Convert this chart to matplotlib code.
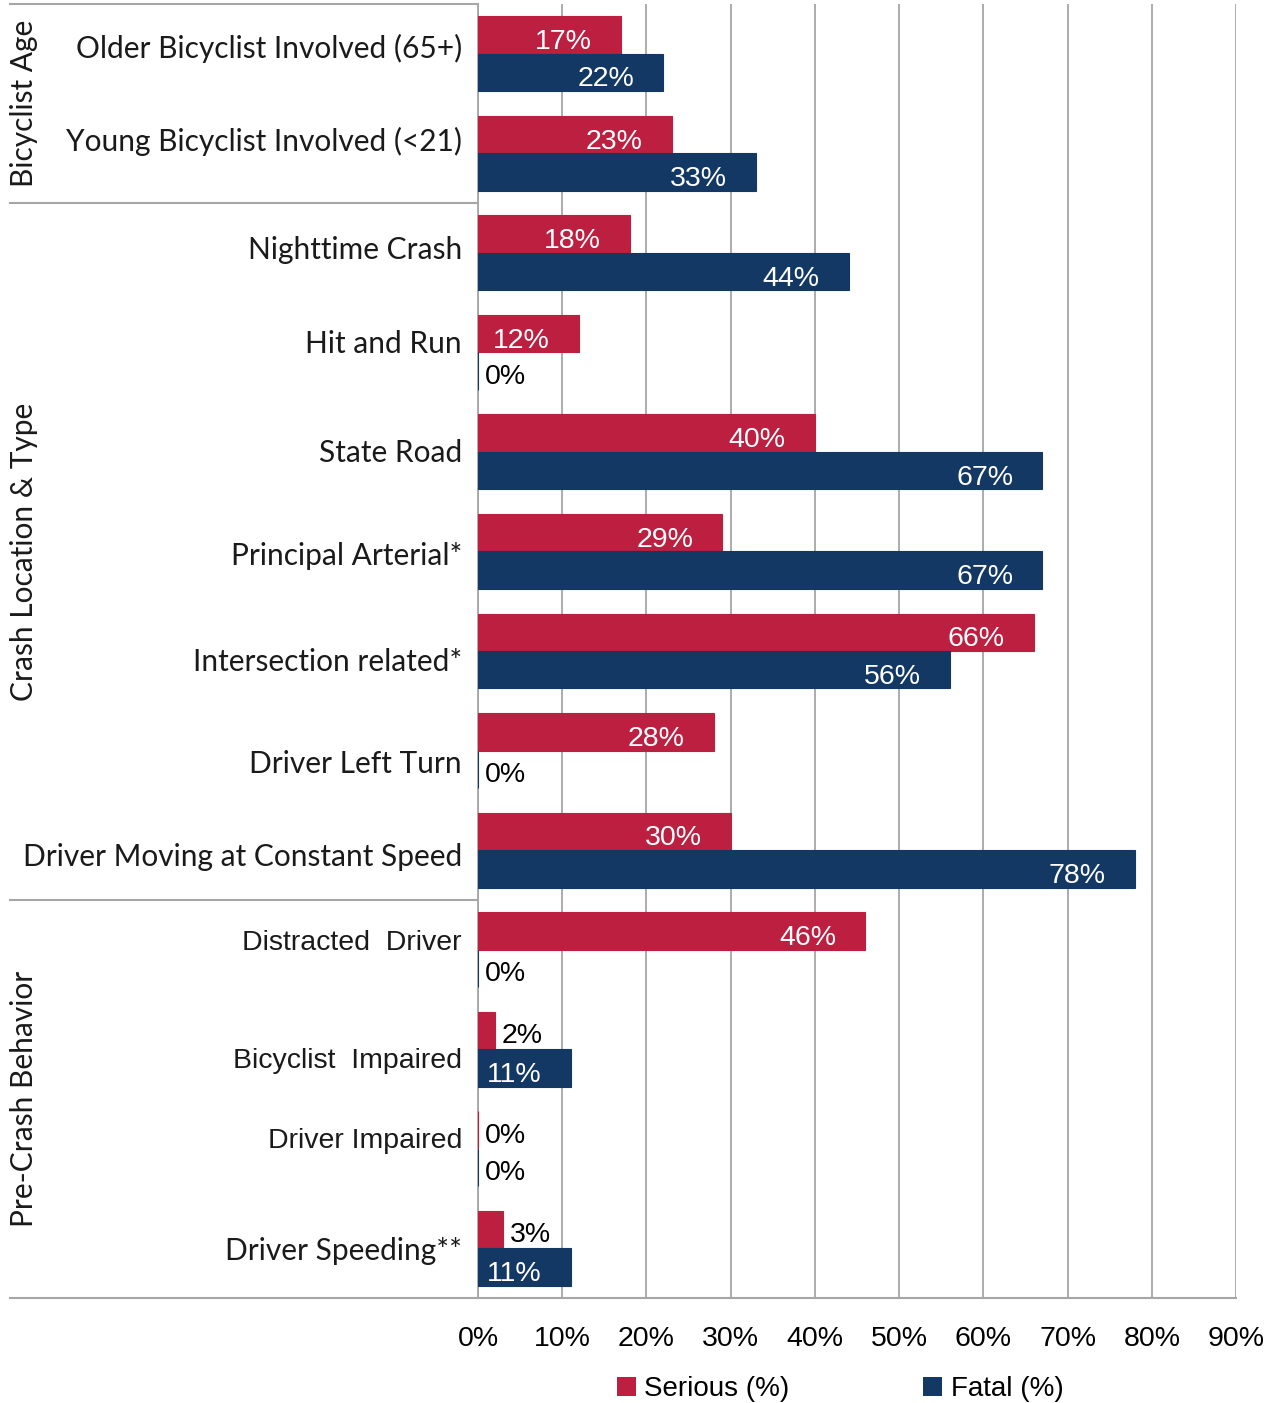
import matplotlib
matplotlib.use("Agg")
import matplotlib.pyplot as plt
import matplotlib.transforms as mtransforms
from matplotlib.patches import Patch
import numpy as np

categories = [
    "Older Bicyclist Involved (65+)",
    "Young Bicyclist Involved (<21)",
    "Nighttime Crash",
    "Hit and Run",
    "State Road",
    "Principal Arterial*",
    "Intersection related*",
    "Driver Left Turn",
    "Driver Moving at Constant Speed",
    "Distracted  Driver",
    "Bicyclist  Impaired",
    "Driver Impaired",
    "Driver Speeding**",
]
serious = [17, 23, 18, 12, 40, 29, 66, 28, 30, 46, 2, 0, 3]
fatal = [22, 33, 44, 0, 67, 67, 56, 0, 78, 0, 11, 0, 11]

groups = ["Bicyclist Age", "Crash Location & Type", "Pre-Crash Behavior"]
group_spans = [(0, 1), (2, 8), (9, 12)]
# labels drawn in an Arial-like face in the original
arial_labels = ["Distracted  Driver", "Bicyclist  Impaired", "Driver Impaired"]
# the original labels sit a little off the bar-pair centre (pixels, + is down)
label_nudge = [-5, -12, -3, -8, 1, 5, 11, 13, 7, -7, 12, -8, 3]

RED = "#BC1F40"
NAVY = "#133864"
GRID = "#A6A6A6"
ARIAL = ["Liberation Sans", "DejaVu Sans"]
HUMAN = ["Lato", "Noto Sans", "DejaVu Sans"]

fig = plt.figure(figsize=(12.73, 14.03), dpi=100)
ax = fig.add_axes([478 / 1273, 1 - 1298 / 1403, 758 / 1273, 1294 / 1403])

y = np.arange(len(categories))
h = 0.376
ax.barh(y - h / 2, serious, height=h, color=RED, edgecolor=RED, linewidth=0.8, zorder=3)
ax.barh(y + h / 2, fatal, height=h, color=NAVY, edgecolor=NAVY, linewidth=0.8, zorder=3)

ax.set_xlim(0, 90)
ax.set_ylim(len(categories) - 0.5, -0.5)
ax.set_xticks(np.arange(0, 91, 10))
ax.set_xticklabels(["%d%%" % v for v in range(0, 91, 10)], family=ARIAL, fontsize=20.5)
ax.tick_params(axis="x", length=0, pad=20)
ax.set_yticks([])
ax.grid(axis="x", color=GRID, linewidth=1.3, zorder=0)
for s in ["top", "right", "bottom"]:
    ax.spines[s].set_visible(False)
ax.spines["left"].set_color(GRID)
ax.spines["left"].set_linewidth(1.3)

for vals, off in [(serious, -h / 2), (fatal, h / 2)]:
    for i, v in enumerate(vals):
        if v >= 5:
            ax.annotate("%d%%" % v, (v, i + off), xytext=(-21, -5), textcoords="offset points",
                        ha="right", va="center", color="white", zorder=4,
                        family=ARIAL, fontsize=20.5)
        else:
            ax.annotate("%d%%" % v, (v, i + off), xytext=(5, -4), textcoords="offset points",
                        ha="left", va="center", color="black", zorder=4,
                        family=ARIAL, fontsize=20.5)

# category labels
trans = mtransforms.blended_transform_factory(ax.transAxes, ax.transData)
for i, c in enumerate(categories):
    if c in arial_labels:
        fam, fs = ARIAL, 20.5
    else:
        fam, fs = HUMAN, 21.5
    ax.annotate(c, (-16 / 758, i), xycoords=trans, xytext=(0, -label_nudge[i] * 0.72),
                textcoords="offset points", ha="right", va="center",
                fontsize=fs, family=fam, color="#1a1a1a")

# group boxes
x0 = (10 - 478) / 758
for yy, xe in [(-0.5, 0), (1.5, 0), (8.5, 0), (12.5, 1)]:
    ax.plot([x0, xe], [yy, yy], transform=trans, color=GRID, linewidth=1.5,
            clip_on=False, zorder=5)
for g, (a, b) in zip(groups, group_spans):
    ax.text((24 - 478) / 758, (a + b) / 2, g, transform=trans, rotation=90,
            ha="center", va="center", fontsize=21.5, family=HUMAN, color="#1a1a1a")

# legend
handles = [Patch(facecolor=RED, label="Serious (%)"), Patch(facecolor=NAVY, label="Fatal (%)")]
fig.legend(handles=handles, loc="center", bbox_to_anchor=(840 / 1273, 1 - 1389 / 1403), ncol=2,
           frameon=False, prop=dict(family=ARIAL, size=20),
           handlelength=0.7, handleheight=0.7, handletextpad=0.3, columnspacing=4.8)

fig.savefig("out.png", dpi=100)
